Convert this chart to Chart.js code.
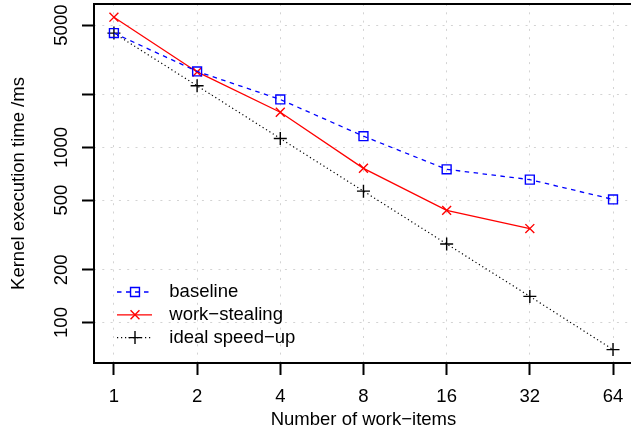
<!DOCTYPE html>
<html>
<head>
<meta charset="utf-8">
<script src="https://cdn.jsdelivr.net/npm/chart.js@4"></script>
<style>
  html, body { margin: 0; padding: 0; overflow: hidden; background: #fff; }
  canvas { display: block; }
</style>
</head>
<body>
<canvas id="timeChart" width="640" height="432"></canvas>
<script>
// values (ms)
const workItems = [1, 2, 4, 8, 16, 32, 64];
const baselineMs = [4500, 2720, 1880, 1160, 750, 655, 505];
const stealingMs = [5550, 2700, 1590, 760, 437, 344];
const idealMs = [4500, 2250, 1125, 563, 281, 141, 70];
const yTicks = [100, 200, 500, 1000, 2000, 5000];

const font = { family: '"Liberation Sans", Arial, Helvetica, sans-serif', size: 18.5 };

function toPoints(ys) {
  return ys.map((y, i) => ({ x: workItems[i], y: y }));
}

// small marker painter for the legend
function drawMarker(ctx, style, x, y, r) {
  ctx.beginPath();
  if (style === 'rect') {
    const s = r * Math.SQRT1_2;
    ctx.rect(x - s, y - s, 2 * s, 2 * s);
  } else if (style === 'crossRot') {
    const s = r * Math.SQRT1_2;
    ctx.moveTo(x - s, y - s); ctx.lineTo(x + s, y + s);
    ctx.moveTo(x - s, y + s); ctx.lineTo(x + s, y - s);
  } else {
    ctx.moveTo(x - r, y); ctx.lineTo(x + r, y);
    ctx.moveTo(x, y - r); ctx.lineTo(x, y + r);
  }
  ctx.stroke();
}

// frame round the plot and the legend in the lower left corner
const boxAndLegend = {
  id: 'boxAndLegend',
  afterDraw(chart) {
    const ctx = chart.ctx;
    const a = chart.chartArea;
    ctx.save();
    ctx.strokeStyle = '#000';
    ctx.lineWidth = 2;
    ctx.strokeRect(a.left, a.top, a.right - a.left, a.bottom - a.top);

    chart.data.datasets.forEach((ds, i) => {
      const y = a.bottom - 71 + i * 22.8;
      const x0 = a.left + 23;
      ctx.strokeStyle = ds.borderColor;
      ctx.lineWidth = ds.borderWidth;
      ctx.setLineDash(ds.borderDash || []);
      ctx.beginPath();
      ctx.moveTo(x0, y);
      ctx.lineTo(x0 + 35, y);
      ctx.stroke();
      ctx.setLineDash([]);
      ctx.lineWidth = ds.pointBorderWidth;
      drawMarker(ctx, ds.pointStyle, x0 + 18, y, ds.pointRadius);
      ctx.fillStyle = '#000';
      ctx.font = font.size + 'px ' + font.family;
      ctx.textBaseline = 'middle';
      ctx.textAlign = 'left';
      ctx.fillText(ds.label, a.left + 75.3, y);
    });
    ctx.restore();
  }
};

const gridOpts = { color: '#d3d3d3', lineWidth: 1, tickColor: '#000', tickWidth: 2, tickLength: 12 };

new Chart(document.getElementById('timeChart').getContext('2d'), {
  type: 'scatter',
  data: {
    datasets: [
      {
        label: 'baseline',
        data: toPoints(baselineMs),
        showLine: true,
        borderColor: '#0000ff',
        borderWidth: 1.3,
        borderDash: [4.5, 4.5],
        pointStyle: 'rect',
        pointRadius: 6.3,
        pointBorderWidth: 1.4,
        pointBorderColor: '#0000ff',
        pointBackgroundColor: 'rgba(0,0,0,0)'
      },
      {
        label: 'work−stealing',
        data: toPoints(stealingMs),
        showLine: true,
        borderColor: '#ff0000',
        borderWidth: 1.3,
        pointStyle: 'crossRot',
        pointRadius: 6.3,
        pointBorderWidth: 1.4,
        pointBorderColor: '#ff0000',
        pointBackgroundColor: 'rgba(0,0,0,0)'
      },
      {
        label: 'ideal speed−up',
        data: toPoints(idealMs),
        showLine: true,
        borderColor: '#000000',
        borderWidth: 1.2,
        borderDash: [1.2, 2.8],
        pointStyle: 'cross',
        pointRadius: 6.5,
        pointBorderWidth: 1.4,
        pointBorderColor: '#000000',
        pointBackgroundColor: 'rgba(0,0,0,0)'
      }
    ]
  },
  options: {
    responsive: false,
    animation: false,
    layout: { autoPadding: false, padding: { top: 4, right: 7, left: 0, bottom: 0 } },
    plugins: { legend: { display: false }, tooltip: { enabled: false } },
    scales: {
      x: {
        type: 'logarithmic',
        min: 0.847,
        max: 75.6,
        afterBuildTicks: s => { s.ticks = workItems.map(v => ({ value: v })); },
        afterFit: s => { s.height = 69; s.paddingLeft = 0; s.paddingRight = 0; },
        ticks: { autoSkip: false, maxRotation: 0, padding: 11, color: '#000', font: font, callback: v => String(v) },
        grid: gridOpts,
        border: { display: false, dash: [2, 6.3] },
        title: { display: true, text: 'Number of work−items', color: '#000', font: font, padding: { top: 0, bottom: 1.3 } }
      },
      y: {
        type: 'logarithmic',
        min: 58.7,
        max: 6600,
        afterBuildTicks: s => { s.ticks = yTicks.map(v => ({ value: v })); },
        afterFit: s => { s.width = 94; s.paddingTop = 0; s.paddingBottom = 0; },
        ticks: {
          autoSkip: false, minRotation: 90, maxRotation: 90, crossAlign: 'center', padding: 0,
          color: '#000', font: font,
          callback: v => (v === 2000 ? '' : String(v))
        },
        grid: gridOpts,
        border: { display: false, dash: [2, 6.3] },
        title: { display: true, text: 'Kernel execution time /ms', color: '#000', font: font, padding: { top: 7.5, bottom: 0 } }
      }
    }
  },
  plugins: [boxAndLegend]
});
</script>
</body>
</html>
